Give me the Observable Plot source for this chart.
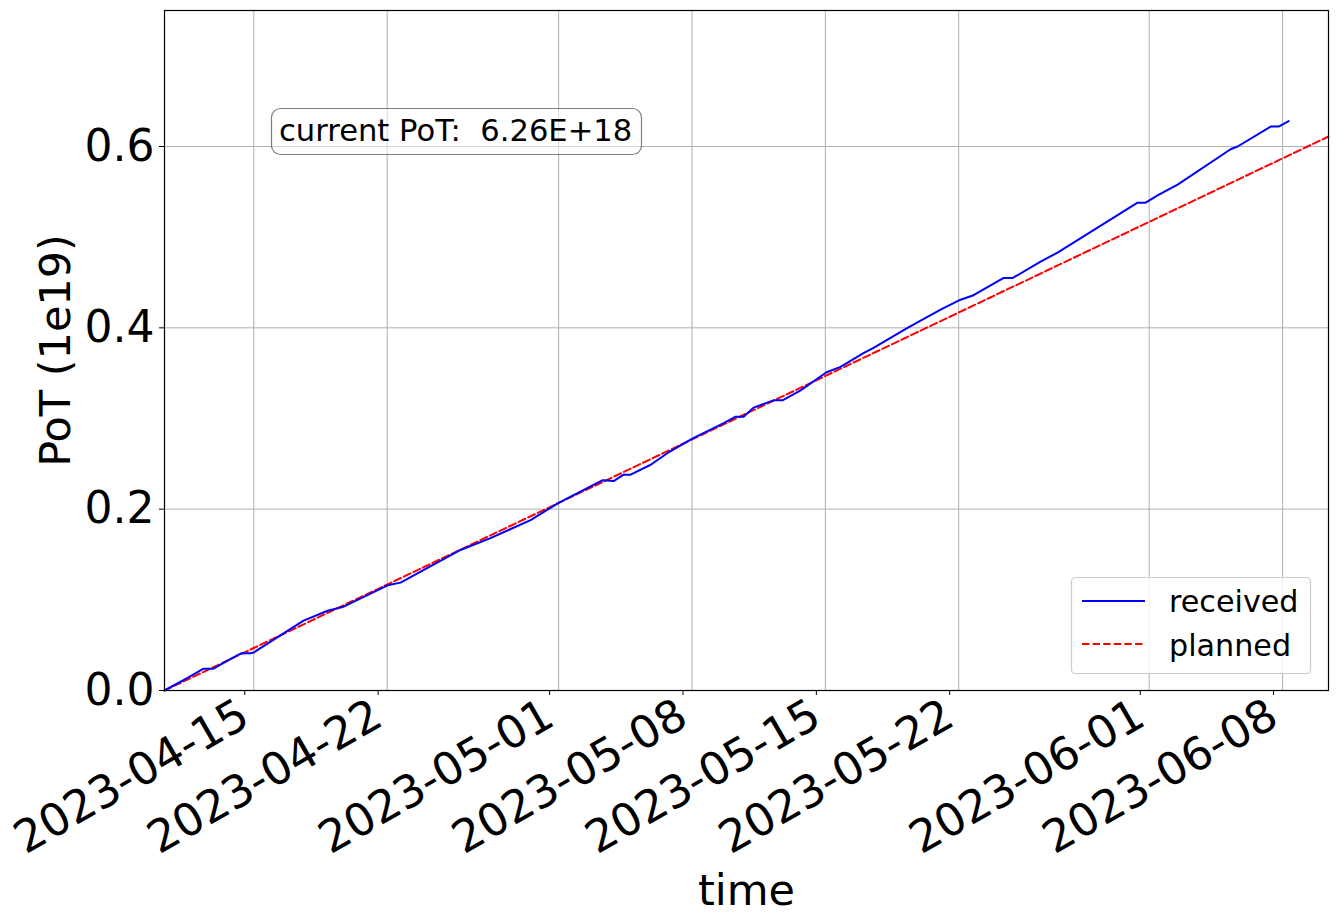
<!DOCTYPE html>
<html>
<head>
<meta charset="utf-8">
<script src="https://cdn.jsdelivr.net/npm/d3@7"></script>
<script src="https://cdn.jsdelivr.net/npm/@observablehq/plot@0.6"></script>
<style>
  html, body { margin: 0; padding: 0; background: #fff; }
  #wrap { position: relative; width: 1336px; height: 923px; font-family: "DejaVu Sans", sans-serif; }
  #wrap svg { font-family: "DejaVu Sans", sans-serif; }
  #overlay { position: absolute; left: 0; top: 0; pointer-events: none; }
</style>
</head>
<body>
<div id="wrap"></div>
<script>
// ---- data ----
const receivedTimes = [
  "2023-04-10T07:30Z","2023-04-11T12:30Z","2023-04-12T08:40Z","2023-04-12T21:10Z","2023-04-13T19:00Z",
  "2023-04-14T08:00Z","2023-04-14T20:00Z","2023-04-15T00:00Z","2023-04-17T14:40Z","2023-04-18T21:00Z",
  "2023-04-19T15:50Z","2023-04-22T00:30Z","2023-04-22T16:50Z","2023-04-25T20:25Z","2023-04-27T10:10Z",
  "2023-04-28T08:50Z","2023-04-29T12:40Z","2023-05-01T00:00Z","2023-05-03T07:30Z","2023-05-03T21:20Z",
  "2023-05-04T09:50Z","2023-05-04T18:40Z","2023-05-05T20:00Z","2023-05-06T17:20Z","2023-05-08T01:00Z",
  "2023-05-09T16:00Z","2023-05-10T07:00Z","2023-05-10T17:00Z","2023-05-11T05:30Z","2023-05-12T06:40Z",
  "2023-05-12T18:00Z","2023-05-13T16:50Z","2023-05-15T01:30Z","2023-05-15T19:10Z","2023-05-17T00:00Z",
  "2023-05-17T12:40Z","2023-05-19T07:30Z","2023-05-21T01:10Z","2023-05-22T02:20Z","2023-05-22T18:40Z",
  "2023-05-24T08:40Z","2023-05-24T20:00Z","2023-05-26T07:10Z","2023-05-27T04:30Z","2023-05-31T09:20Z",
  "2023-05-31T19:30Z","2023-06-01T10:30Z","2023-06-02T11:45Z","2023-06-05T06:30Z","2023-06-05T15:20Z",
  "2023-06-07T09:00Z","2023-06-07T19:00Z","2023-06-08T07:40Z"
];
const receivedValues = [
  0.000,0.014,0.024,0.024,0.035,
  0.041,0.041,0.042,0.077,0.088,
  0.092,0.116,0.119,0.155,0.168,
  0.177,0.188,0.207,0.232,0.231,
  0.238,0.238,0.249,0.262,0.278,
  0.295,0.302,0.302,0.312,0.320,
  0.320,0.331,0.351,0.357,0.372,
  0.378,0.400,0.420,0.431,0.436,
  0.455,0.455,0.473,0.483,0.538,
  0.538,0.546,0.558,0.597,0.600,
  0.622,0.622,0.628
];
const plannedTimes = ["2023-04-10T07:30Z", "2023-06-10T09:50Z"];
const plannedValues = [0.0, 0.611];
const xTickLabels = ["2023-04-15","2023-04-22","2023-05-01","2023-05-08","2023-05-15","2023-05-22","2023-06-01","2023-06-08"];
const yTicks = [0.0, 0.2, 0.4, 0.6];
const yDomain = [0, 0.75];
const currentPoT = "6.26E+18";
const seriesNames = ["received", "planned"];
const seriesColors = ["#0000ff", "#ff0000"];

// ---- build ----
const received = receivedTimes.map((t, i) => ({t: new Date(t), v: receivedValues[i]}));
const planned = plannedTimes.map((t, i) => ({t: new Date(t), v: plannedValues[i]}));
const xTicks = xTickLabels.map(s => new Date(s + "T00:00Z"));
const xDomain = [new Date(plannedTimes[0]), new Date(plannedTimes[1])];

const W = 1336, H = 923;
const mL = 164, mR = 8, mT = 10, mB = 233;
const grid = "#b0b0b0";

const chart = Plot.plot({
  width: W, height: H,
  marginLeft: mL, marginRight: mR, marginTop: mT, marginBottom: mB,
  style: {fontFamily: "DejaVu Sans, sans-serif", background: "white", overflow: "visible"},
  x: {type: "utc", domain: xDomain},
  y: {domain: yDomain},
  marks: [
    Plot.gridX(xTicks, {stroke: grid, strokeOpacity: 1, strokeWidth: 1}),
    Plot.gridY(yTicks, {stroke: grid, strokeOpacity: 1, strokeWidth: 1}),
    Plot.line(planned, {x: "t", y: "v", stroke: seriesColors[1], strokeWidth: 2, strokeDasharray: "7.4,3.2"}),
    Plot.line(received, {x: "t", y: "v", stroke: seriesColors[0], strokeWidth: 2}),
    Plot.frame({stroke: "black", strokeWidth: 1.2}),
    Plot.axisX(xTicks, {
      tickFormat: d3.utcFormat("%Y-%m-%d"), tickRotate: -30, fontSize: 45,
      tickSize: 5, tickPadding: 16, dx: -9, label: null, stroke: "black", fill: "black"
    }),
    Plot.axisY(yTicks, {
      tickFormat: d => d.toFixed(1), fontSize: 44, tickSize: 5, tickPadding: 5,
      label: null, stroke: "black", fill: "black"
    }),
    Plot.text(["PoT (1e19)"], {frameAnchor: "left", dx: -108, rotate: -90, fontSize: 43, fill: "black", textAnchor: "middle", lineAnchor: "middle"}),
    Plot.text(["time"], {frameAnchor: "bottom", dy: 201, fontSize: 43, fill: "black", textAnchor: "middle", lineAnchor: "middle"})
  ]
});
document.getElementById("wrap").appendChild(chart);

// ---- overlay: annotation box and legend ----
const ov = d3.select("#wrap").append("svg").attr("id", "overlay")
  .attr("width", W).attr("height", H)
  .style("font-family", "DejaVu Sans, sans-serif");

// annotation
const ann = ov.append("g");
ann.append("rect").attr("x", 271.5).attr("y", 108.5).attr("width", 370).attr("height", 46)
  .attr("rx", 9).attr("ry", 9)
  .attr("fill", "white").attr("fill-opacity", 0.5)
  .attr("stroke", "black").attr("stroke-opacity", 0.5).attr("stroke-width", 1.2);
ann.append("text").attr("x", 279).attr("y", 140.5).attr("font-size", 30.6)
  .attr("xml:space", "preserve").style("white-space", "pre")
  .text("current PoT:  " + currentPoT);

// legend
const lg = ov.append("g");
lg.append("rect").attr("x", 1071.5).attr("y", 577.5).attr("width", 239).attr("height", 96)
  .attr("rx", 4).attr("ry", 4)
  .attr("fill", "white").attr("fill-opacity", 0.8)
  .attr("stroke", "#cccccc").attr("stroke-width", 1.2);
const rowsY = [601, 644];
seriesNames.forEach((name, i) => {
  lg.append("line").attr("x1", 1082).attr("x2", 1145).attr("y1", rowsY[i]).attr("y2", rowsY[i])
    .attr("stroke", seriesColors[i]).attr("stroke-width", 2)
    .attr("stroke-dasharray", i === 1 ? "7.4,3.2" : null);
  lg.append("text").attr("x", 1169).attr("y", rowsY[i] + 11 + i).attr("font-size", 30.2).attr("fill", "black").text(name);
});
</script>
</body>
</html>
